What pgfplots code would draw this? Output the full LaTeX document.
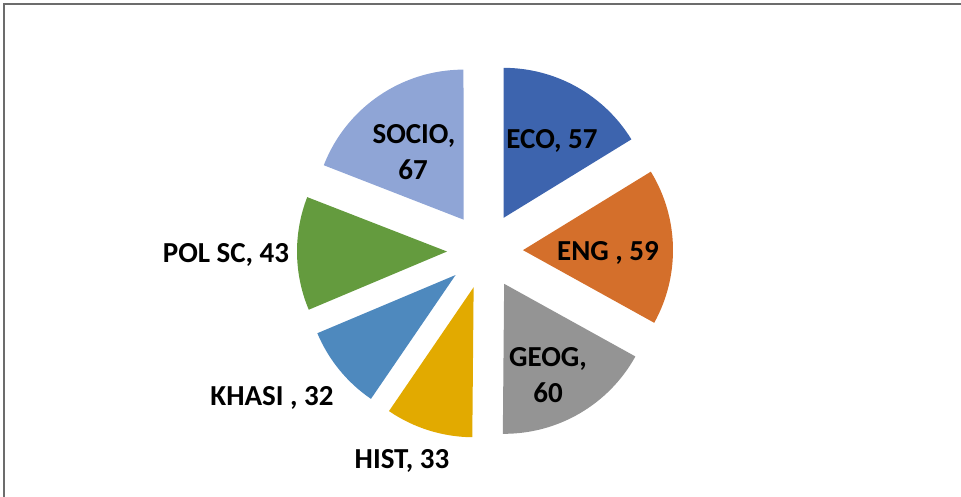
\documentclass[border=0pt]{standalone}
\usepackage{pgfplots}
\pgfplotsset{compat=1.18}
\usepackage{fontspec}
\setmainfont{Carlito}
\definecolor{cECO}{HTML}{3D64AE}
\definecolor{cENG}{HTML}{D46F2B}
\definecolor{cGEOG}{HTML}{949494}
\definecolor{cHIST}{HTML}{E2AA00}
\definecolor{cKHASI}{HTML}{4E89BE}
\definecolor{cPOL}{HTML}{649B3E}
\definecolor{cSOCIO}{HTML}{8FA5D6}
\tikzset{lab/.style={anchor=base, inner sep=0pt, text=black, font=\fontsize{29}{35}\selectfont\bfseries}}
\begin{document}
\begin{tikzpicture}
\begin{axis}[
  width=961pt, height=497pt, scale only axis,
  xmin=0, xmax=961, ymin=0, ymax=497,
  hide axis, clip=false]
% border
\draw[draw=gray!85!black, line width=1.5pt] (axis cs:4,0) -- (axis cs:4,493) -- (axis cs:961,493);
% pie slices: value / colour  (total 351), centre (485,246), explode 38, radius 150
\foreach \v/\c [remember=\e as \s (initially 90)] in {57/cECO,59/cENG,60/cGEOG,33/cHIST,32/cKHASI,43/cPOL,67/cSOCIO} {
  \pgfmathsetmacro\e{\s-\v/351*360}
  \pgfmathsetmacro\m{(\s+\e)/2}
  \pgfmathsetmacro\X{485+38*cos(\m)}
  \pgfmathsetmacro\Y{246+38*sin(\m)}
  \edef\temp{\noexpand\fill[\c] (axis cs:\X,\Y) -- ++(\s:150pt) arc[start angle=\s, end angle=\e, radius=150pt] -- cycle;}
  \temp
}
% labels (baseline positions)
\node[lab] at (axis cs:552,348) {ECO, 57};
\node[lab] at (axis cs:608,236) {ENG , 59};
\node[lab] at (axis cs:548,130) {GEOG,};
\node[lab] at (axis cs:548,94) {60};
\node[lab] at (axis cs:402,28) {HIST, 33};
\node[lab] at (axis cs:272,91) {KHASI , 32};
\node[lab] at (axis cs:226,234) {POL SC, 43};
\node[lab] at (axis cs:414,353) {SOCIO,};
\node[lab] at (axis cs:413,317) {67};
\end{axis}
\pgfresetboundingbox
\path[use as bounding box] (0,0) rectangle (961pt,497pt);
\end{tikzpicture}
\end{document}
